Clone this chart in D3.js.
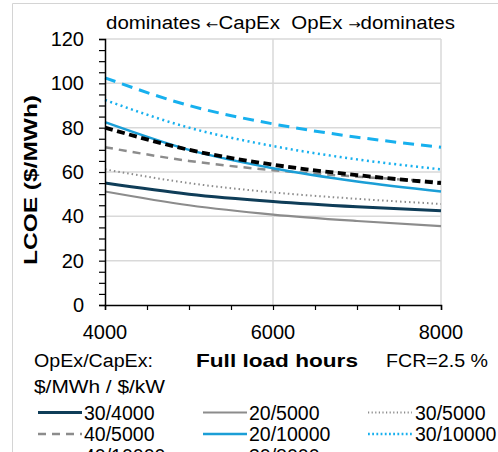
<!DOCTYPE html>
<html><head><meta charset="utf-8">
<script src="https://cdn.jsdelivr.net/npm/d3@7"></script>
<style>body{margin:0;background:#fff}svg{display:block;font-family:"Liberation Sans",Arial,sans-serif}</style>
</head><body><svg id="c" width="498" height="452"></svg>
<script>
const hours = [4000, 5000, 6000, 7000, 8000];
const seriesNames = ["30/4000","20/5000","30/5000","40/5000","20/10000","30/10000","40/10000","30/8000"];
const v30_4000  = [55, 50, 46.7, 44.3, 42.5];
const v20_5000  = [51.2, 45, 40.8, 37.9, 35.6];
const v30_5000  = [61.2, 55, 50.8, 47.9, 45.6];
const v40_5000  = [71.2, 65, 60.8, 57.9, 55.6];
const v20_10000 = [82.5, 70, 61.7, 55.7, 51.2];
const v30_10000 = [92.5, 80, 71.7, 65.7, 61.2];
const v40_10000 = [102.5, 90, 81.7, 75.7, 71.2];
const v30_8000  = [80, 70, 63.3, 58.6, 55];
const yTicks = [0, 20, 40, 60, 80, 100, 120];
const xTicks = [4000, 6000, 8000];

const styles = {
  "30/4000":  {c:"#0f3d58", w:3,   d:null},
  "20/5000":  {c:"#8c8c8c", w:2.2, d:null},
  "30/5000":  {c:"#8c8c8c", w:2,   d:"1.5,3"},
  "40/5000":  {c:"#8c8c8c", w:2.5, d:"8,6"},
  "20/10000": {c:"#1b9ed6", w:2.5, d:null},
  "30/10000": {c:"#17b0ee", w:2.5, d:"2,3.5"},
  "40/10000": {c:"#17b0ee", w:3,   d:"11,7"},
  "30/8000":  {c:"#000000", w:3.8, d:"8,4.5"}
};
const values = {"30/4000":v30_4000,"20/5000":v20_5000,"30/5000":v30_5000,"40/5000":v40_5000,
  "20/10000":v20_10000,"30/10000":v30_10000,"40/10000":v40_10000,"30/8000":v30_8000};

const svg = d3.select("#c");
const x = d3.scaleLinear().domain([4000, 8000]).range([105, 441]);
const y = d3.scaleLinear().domain([0, 120]).range([305, 39]);

// outer border
svg.append("path").attr("d","M12.5,452 V3.5 H498").attr("fill","none").attr("stroke","#d4d4d4").attr("stroke-width",1);

// gridlines
const g = svg.append("g");
g.selectAll(".hg").data(yTicks.filter(t=>t>0)).join("line")
  .attr("x1",x(4000)).attr("x2",x(8000)).attr("y1",d=>y(d)).attr("y2",d=>y(d))
  .attr("stroke","#d9d9d9").attr("stroke-width",1.5);
g.selectAll(".vg").data([6000,8000]).join("line")
  .attr("x1",d=>x(d)).attr("x2",d=>x(d)).attr("y1",y(0)).attr("y2",y(120))
  .attr("stroke","#d9d9d9").attr("stroke-width",1.5);

// lines
const line = d3.line().x((d,i)=>x(hours[i])).y(d=>y(d)).curve(d3.curveMonotoneX);
const order = ["20/5000","30/5000","40/5000","30/4000","20/10000","30/10000","40/10000","30/8000"];
order.forEach(n=>{
  const s = styles[n];
  svg.append("path").attr("d", line(values[n])).attr("fill","none")
    .attr("stroke", s.c).attr("stroke-width", s.w)
    .attr("stroke-dasharray", s.d).attr("stroke-linecap","butt");
});

// axes
const yAxis = d3.axisLeft(y).tickValues(d3.range(0,121,5)).tickSize(6).tickFormat("");
const ya = svg.append("g").attr("transform",`translate(${x(4000)},0)`).call(yAxis);
const xAxis = d3.axisBottom(x).tickValues(d3.range(4000,8001,500)).tickSize(5).tickFormat("");
const xa = svg.append("g").attr("transform",`translate(0,${y(0)})`).call(xAxis);
[ya,xa].forEach(a=>{a.select(".domain").attr("stroke","#000").attr("stroke-width",1.5);
  a.selectAll(".tick line").attr("stroke","#000").attr("stroke-width",1.2);});

// tick labels
svg.selectAll(".yl").data(yTicks).join("text")
  .attr("x",84).attr("y",d=>y(d)+7).attr("text-anchor","end")
  .attr("font-size",20).text(d=>d);
svg.selectAll(".xl").data(xTicks).join("text")
  .attr("x",d=>x(d)).attr("y",339).attr("text-anchor","middle")
  .attr("font-size",20).text(d=>d);

// title
const t = svg.append("text").attr("x",106).attr("y",29).attr("font-size",18);
t.append("tspan").text("dominates\u00a0");
t.append("tspan").attr("font-family","DejaVu Sans").attr("font-size",13).text("\u2190");
t.append("tspan").text("CapEx\u00a0\u00a0OpEx\u00a0");
t.append("tspan").attr("font-family","DejaVu Sans").attr("font-size",13).text("\u2192");
t.append("tspan").text("dominates");
t.attr("textLength",349).attr("lengthAdjust","spacingAndGlyphs");

// y title
svg.append("text").attr("transform","translate(37,180) rotate(-90)")
  .attr("text-anchor","middle").attr("font-size",19).attr("font-weight","bold")
  .attr("textLength",170).attr("lengthAdjust","spacingAndGlyphs")
  .text("LCOE ($/MWh)");

// bottom texts
svg.append("text").attr("x",34).attr("y",367).attr("font-size",18)
  .attr("textLength",119).attr("lengthAdjust","spacingAndGlyphs").text("OpEx/CapEx:");
svg.append("text").attr("x",196).attr("y",367).attr("font-size",19).attr("font-weight","bold")
  .attr("textLength",162).attr("lengthAdjust","spacingAndGlyphs").text("Full load hours");
svg.append("text").attr("x",386).attr("y",367).attr("font-size",18)
  .attr("textLength",102).attr("lengthAdjust","spacingAndGlyphs").text("FCR=2.5 %");
svg.append("text").attr("x",34).attr("y",393).attr("font-size",18)
  .attr("textLength",131).attr("lengthAdjust","spacingAndGlyphs").text("$/MWh / $/kW");

// legend
const colX = [38, 203, 368];
seriesNames.forEach((n,i)=>{
  const col = i%3, row = Math.floor(i/3);
  const s = styles[n];
  const ly = 412.5 + row*21.5;
  svg.append("line").attr("x1",colX[col]).attr("x2",colX[col]+44).attr("y1",ly).attr("y2",ly)
    .attr("stroke",s.c).attr("stroke-width",Math.min(s.w,3))
    .attr("stroke-dasharray", s.d==="1.5,3"?"1.2,2.4":(s.d==="2,3.5"?"1.8,2.4":s.d));
  svg.append("text").attr("x",colX[col]+(col===2?47:46)).attr("y",ly+7).attr("font-size",19.5)
    .text(n);
});
</script></body></html>
